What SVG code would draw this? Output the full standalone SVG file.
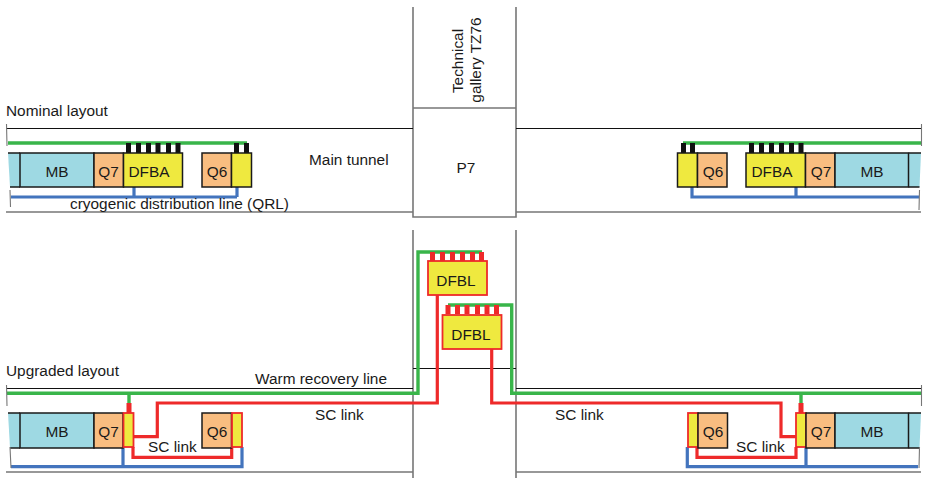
<svg xmlns="http://www.w3.org/2000/svg" width="925" height="478" viewBox="0 0 925 478">
<style>
text{font-family:"Liberation Sans",Arial,sans-serif;font-size:15.4px;fill:#1a1a1a}
.m{text-anchor:middle}
.mb{fill:#9ed9e3;stroke:#1a1a1a;stroke-width:1.5}
.me{fill:#9ed9e3;stroke:none}
.ml{fill:none;stroke:#1a1a1a;stroke-width:1.5}
.q{fill:#f9bd80;stroke:#1a1a1a;stroke-width:1.5}
.y{fill:#efe93f;stroke:#1a1a1a;stroke-width:1.5}
.yr{fill:#efe93f;stroke:#ee2a2a;stroke-width:1.8}
.w{fill:none;stroke:#111;stroke-width:1}
.g{fill:none;stroke:#777;stroke-width:1.6}
.gl{fill:none;stroke:#39b54a;stroke-width:3.4}
.bl{fill:none;stroke:#4374bd;stroke-width:3.2}
.rd{fill:none;stroke:#ee2a2a;stroke-width:3.2}
.tb{stroke:#111;stroke-width:5;fill:none}
.tr{stroke:#ee2a2a;stroke-width:5;fill:none}
</style>
<g id="tunnels">
<path class="g" d="M413 7V217H516V7M413 108H516M413 230V478M516 230V478"/>
<path class="w" d="M6 128.500H413M516 128.500H921M6 388.500H413M516 388.500H921M413 368.500H516"/>
<path class="g" d="M6 212H413M516 212H921M6 472H413M516 472H921"/>
</g>
<g id="connectors">
<path class="gl" d="M8 143H247M683 143H922M7 393.300H418V252H482M448 305H511.700V393.300H921M129 393V403M801 393V403"/>
<path class="bl" d="M11 197H237M134 187V197M237 187V197M692 187V197H919M796 187V197"/>
<path class="bl" d="M11 466.700H242V447M123 447V466.700M687.300 447V466.700H918M806 447V466.700"/>
<path class="rd" d="M437.300 295V403H157.300V436.700H133M133 447V457.300H231.700V447M491.700 349V403H781V436.700H796M697 447V457.300H796V447"/>
<path class="tb" d="M128.500 143V153M138.500 143V153M148.500 143V153M158 143V153M168.500 143V153M178 143V153M236.500 143V153M246.500 143V153M683.500 143V153M692.500 143V153M751.500 143V153M761.500 143V153M771.500 143V153M781.500 143V153M791.500 143V153M801 143V153"/>
<path class="tr" d="M432.500 252V261M442.500 252V261M452.500 252V261M462.500 252V261M472.500 252V261M481.500 252V261M448 305V314M457.500 305V314M467 305V314M477.500 305V314M487 305V314M496.500 305V314M129 403V413M801 403V413"/>
</g>
<g id="mb-left-top"><path class="me" d="M8 153H20V187H10Z"/><path class="ml" d="M8 153H20M10 187H20"/><rect class="mb" x="20" y="153" width="74" height="34"/><text class="m" x="57" y="177">MB</text></g>
<g id="q7-left-top"><rect class="q" x="94" y="153" width="29.500" height="34"/><text class="m" x="108.500" y="177">Q7</text></g>
<g id="dfba-left"><rect class="y" x="123.500" y="153" width="59" height="34"/><text class="m" x="149" y="177">DFBA</text></g>
<g id="q6-left-top"><rect class="q" x="202" y="153" width="29.500" height="34"/><text class="m" x="217" y="177">Q6</text></g>
<g id="yellow-left-top"><rect class="y" x="231.500" y="153" width="20" height="34"/></g>
<g id="yellow-right-top"><rect class="y" x="677.500" y="153" width="20" height="34"/></g>
<g id="q6-right-top"><rect class="q" x="697.500" y="153" width="29.500" height="34"/><text class="m" x="713" y="177">Q6</text></g>
<g id="dfba-right"><rect class="y" x="746" y="153" width="59.500" height="34"/><text class="m" x="772" y="177">DFBA</text></g>
<g id="q7-right-top"><rect class="q" x="805.500" y="153" width="29.500" height="34"/><text class="m" x="821" y="177">Q7</text></g>
<g id="mb-right-top"><path class="me" d="M908.500 153H921L919.500 187H908.500Z"/><path class="ml" d="M908.500 153H921M908.500 187H919.500"/><rect class="mb" x="835" y="153" width="73.500" height="34"/><text class="m" x="872" y="177">MB</text></g>
<g id="dfbl-1"><rect class="yr" x="428" y="261" width="59" height="34"/><text class="m" x="456" y="286">DFBL</text></g>
<g id="dfbl-2"><rect class="yr" x="442.500" y="315" width="59" height="34"/><text class="m" x="471" y="340">DFBL</text></g>
<g id="mb-left-bottom"><path class="me" d="M8 413H20V448H10Z"/><path class="ml" d="M8 413H20M10 448H20"/><rect class="mb" x="20" y="413" width="74" height="35"/><text class="m" x="57" y="437">MB</text></g>
<g id="q7-left-bottom"><rect class="q" x="94" y="413" width="29" height="35"/><text class="m" x="108.500" y="437">Q7</text></g>
<g id="yellow-left-q7"><rect class="yr" x="123.500" y="413" width="10" height="34"/></g>
<g id="q6-left-bottom"><rect class="q" x="202" y="413" width="29.500" height="35"/><text class="m" x="217" y="437">Q6</text></g>
<g id="yellow-left-q6"><rect class="yr" x="232" y="413" width="10" height="34"/></g>
<g id="yellow-right-q6"><rect class="yr" x="688" y="413" width="10" height="34"/></g>
<g id="q6-right-bottom"><rect class="q" x="698" y="413" width="29.500" height="35"/><text class="m" x="713" y="437">Q6</text></g>
<g id="yellow-right-q7"><rect class="yr" x="796" y="413" width="10" height="34"/></g>
<g id="q7-right-bottom"><rect class="q" x="806" y="413" width="29" height="35"/><text class="m" x="821" y="437">Q7</text></g>
<g id="mb-right-bottom"><path class="me" d="M908.500 413H921L919.500 448H908.500Z"/><path class="ml" d="M908.500 413H921M908.500 448H919.500"/><rect class="mb" x="835" y="413" width="73.500" height="35"/><text class="m" x="872" y="437">MB</text></g>
<g id="ticks">
<path class="g" style="stroke-width:1.100" d="M6.500 124L7 146M10 190L10.500 207M921.500 124V146M919.500 190L919 210M6.500 385L7 406M10 447L11 468M921.500 385V406M919.500 447L919 468"/>
</g>
<g id="labels">
<text x="6" y="116">Nominal layout</text>
<text x="309" y="165">Main tunnel</text>
<text class="m" x="466" y="173">P7</text>
<text x="70" y="209">cryogenic distribution line (QRL)</text>
<text class="m" transform="translate(463 61) rotate(-90)">Technical</text>
<text class="m" transform="translate(481 60) rotate(-90)">gallery TZ76</text>
<text x="6" y="376">Upgraded layout</text>
<text x="255" y="384">Warm recovery line</text>
<text x="315" y="420">SC link</text>
<text x="555" y="420">SC link</text>
<text x="148" y="452">SC link</text>
<text x="736" y="452">SC link</text>
</g>
</svg>
